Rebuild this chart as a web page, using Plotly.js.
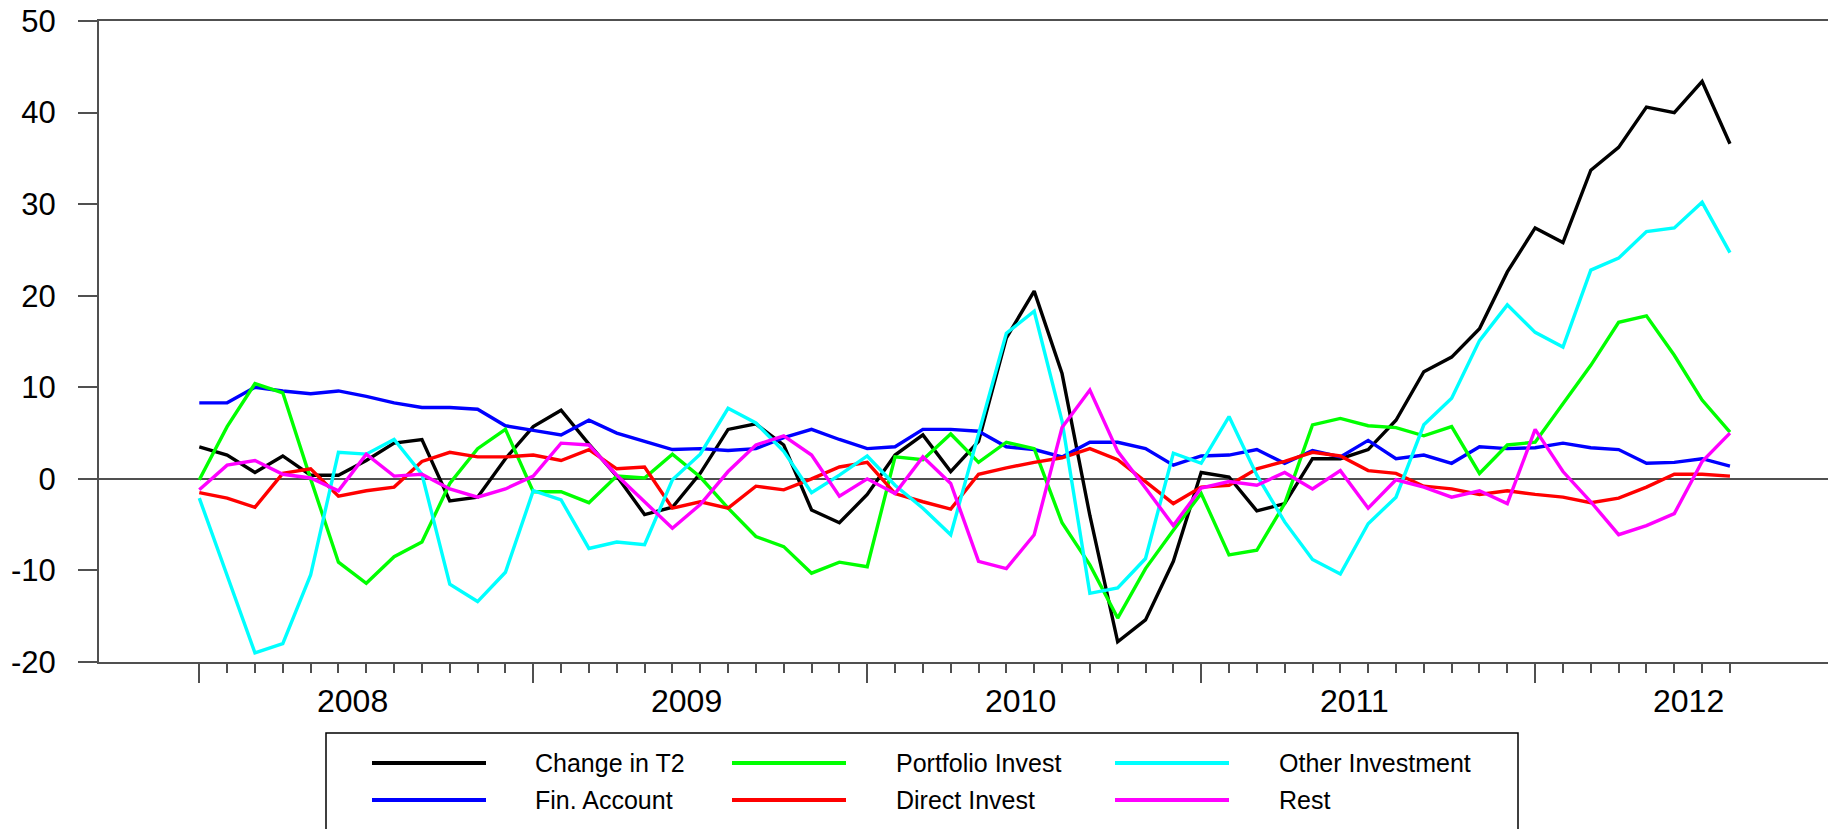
<!DOCTYPE html>
<html>
<head>
<meta charset="utf-8">
<script src="https://cdn.plot.ly/plotly-3.0.1.min.js"></script>
<style>
html,body{margin:0;padding:0;background:#ffffff;}
#chart{width:1828px;height:829px;}
</style>
</head>
<body>
<div id="chart"></div>
<script>
// ---- data (monthly) ----
const months = [
 '2008-01','2008-02','2008-03','2008-04','2008-05','2008-06','2008-07','2008-08','2008-09','2008-10','2008-11','2008-12',
 '2009-01','2009-02','2009-03','2009-04','2009-05','2009-06','2009-07','2009-08','2009-09','2009-10','2009-11','2009-12',
 '2010-01','2010-02','2010-03','2010-04','2010-05','2010-06','2010-07','2010-08','2010-09','2010-10','2010-11','2010-12',
 '2011-01','2011-02','2011-03','2011-04','2011-05','2011-06','2011-07','2011-08','2011-09','2011-10','2011-11','2011-12',
 '2012-01','2012-02','2012-03','2012-04','2012-05','2012-06','2012-07','2012-08'
];
const years = ['2008','2009','2010','2011','2012'];
const yTicks = [-20,-10,0,10,20,30,40,50];

const changeT2 = [3.5,2.6,0.7,2.5,0.4,0.4,2.0,3.9,4.3,-2.4,-2.0,2.2,
 5.7,7.5,3.8,0.3,-3.9,-3.1,0.6,5.4,6.0,3.7,-3.4,-4.8,
 -1.7,2.6,4.8,0.8,4.1,15.4,20.5,11.5,-4.0,-17.8,-15.4,-9.0,
 0.7,0.2,-3.5,-2.7,2.2,2.2,3.2,6.4,11.7,13.3,16.4,22.6,
 27.4,25.8,33.7,36.2,40.6,40.0,43.4,36.6];
const finAccount = [8.3,8.3,10.0,9.6,9.3,9.6,9.0,8.3,7.8,7.8,7.6,5.8,
 5.3,4.8,6.4,5.0,4.1,3.2,3.3,3.1,3.3,4.5,5.4,4.3,
 3.3,3.5,5.4,5.4,5.2,3.5,3.2,2.4,4.0,4.0,3.3,1.5,
 2.5,2.6,3.2,1.7,3.1,2.4,4.2,2.2,2.6,1.7,3.5,3.3,
 3.4,3.9,3.4,3.2,1.7,1.8,2.2,1.4];
const portfolioInvest = [-0.1,5.7,10.4,9.4,0.0,-9.1,-11.4,-8.5,-6.9,-0.5,3.3,5.4,
 -1.4,-1.4,-2.6,0.3,0.1,2.7,0.2,-3.2,-6.3,-7.4,-10.3,-9.1,
 -9.6,2.4,2.1,4.9,1.8,4.0,3.3,-4.8,-9.4,-15.2,-9.8,-5.6,
 -1.6,-8.3,-7.8,-2.7,5.9,6.6,5.8,5.6,4.7,5.7,0.6,3.7,
 4.0,8.2,12.4,17.1,17.8,13.5,8.6,5.1];
const directInvest = [-1.5,-2.1,-3.1,0.6,1.1,-1.9,-1.3,-0.9,1.9,2.9,2.4,2.4,
 2.6,2.0,3.2,1.1,1.3,-3.2,-2.5,-3.2,-0.8,-1.2,0.0,1.3,
 1.8,-1.6,-2.5,-3.3,0.5,1.2,1.8,2.3,3.3,2.1,-0.3,-2.7,
 -0.9,-0.7,1.1,1.9,2.9,2.5,0.9,0.6,-0.8,-1.1,-1.7,-1.3,
 -1.7,-2.0,-2.6,-2.1,-0.9,0.5,0.5,0.3];
const otherInvestment = [-2.1,-10.5,-19.0,-18.0,-10.5,2.9,2.7,4.3,0.5,-11.5,-13.4,-10.2,
 -1.3,-2.3,-7.6,-6.9,-7.2,-0.1,2.7,7.7,6.1,3.0,-1.5,0.4,
 2.5,-0.7,-3.2,-6.1,4.8,15.9,18.3,6.3,-12.5,-11.9,-8.7,2.8,
 1.7,6.8,0.4,-4.7,-8.8,-10.4,-4.9,-2.0,5.9,8.8,15.1,19.0,
 16.0,14.4,22.8,24.1,27.0,27.4,30.2,24.7];
const rest = [-1.2,1.5,2.0,0.5,0.1,-1.3,2.7,0.3,0.5,-1.1,-2.0,-1.1,
 0.3,3.9,3.7,0.4,-2.5,-5.4,-2.8,0.8,3.7,4.7,2.6,-1.9,
 0.0,-1.6,2.4,-0.5,-9.0,-9.8,-6.1,5.6,9.7,3.0,-1.0,-5.1,
 -1.0,-0.3,-0.7,0.7,-1.1,0.9,-3.2,-0.1,-0.9,-2.0,-1.3,-2.7,
 5.4,0.8,-2.5,-6.1,-5.1,-3.8,1.9,5.0];

const seriesNames = ['Change in T2','Fin. Account','Portfolio Invest','Direct Invest','Other Investment','Rest'];
const seriesValues = [changeT2, finAccount, portfolioInvest, directInvest, otherInvestment, rest];
const seriesColors = ['#000000','#0000ff','#00ff00','#ff0000','#00ffff','#ff00ff'];
// legend grid slot (column,row) for each series
const legendCol = [0,0,1,1,2,2];
const legendRow = [0,1,0,1,0,1];

// ---- geometry ----
const W = 1828, H = 829, ML = 99, MR = 0, MT = 21, MB = 167;
const plotW = W - ML - MR, plotH = H - MT - MB;
const pxX = p => (p - ML) / plotW;
const pxY = p => (H - MB - p) / plotH;
const firstPx = 199.3, monthPx = 27.83;

const xIdx = months.map((m, i) => i);
const yearStart = years.map(y => months.indexOf(y + '-01'));
const yearMid = yearStart.map(s => s + 5.5);

const traces = seriesNames.map((name, k) => ({
  type: 'scatter', mode: 'lines', name: name,
  x: xIdx, y: seriesValues[k],
  line: {color: seriesColors[k], width: 3.4},
  showlegend: false, hoverinfo: 'skip'
}));

const axisColor = '#505050';
const fontFam = '"Liberation Sans", Arial, sans-serif';

// manual legend
const legBox = {x0: 326, x1: 1518, y0: 733, y1: 845};
const legRowY = [763, 800];
const legLineX = [[372, 486], [732, 846], [1115, 1229]];
const legTextX = [533, 894, 1277];

const shapes = [{
  type: 'rect', xref: 'paper', yref: 'paper',
  x0: pxX(legBox.x0), x1: pxX(legBox.x1), y0: pxY(legBox.y1), y1: pxY(legBox.y0),
  line: {color: '#000000', width: 1.5}, fillcolor: 'rgba(0,0,0,0)'
}];
const annotations = [];
seriesNames.forEach((name, k) => {
  const c = legendCol[k], r = legendRow[k];
  shapes.push({
    type: 'line', xref: 'paper', yref: 'paper',
    x0: pxX(legLineX[c][0]), x1: pxX(legLineX[c][1]),
    y0: pxY(legRowY[r]), y1: pxY(legRowY[r]),
    line: {color: seriesColors[k], width: 4}
  });
  annotations.push({
    xref: 'paper', yref: 'paper', x: pxX(legTextX[c]), y: pxY(legRowY[r]),
    xanchor: 'left', yanchor: 'middle', showarrow: false, text: name,
    font: {family: fontFam, size: 25, color: '#000000'}
  });
});
years.forEach((yr, j) => {
  annotations.push({
    xref: 'x', yref: 'paper', x: yearMid[j], y: pxY(701),
    xanchor: 'center', yanchor: 'middle', showarrow: false, text: yr,
    font: {family: fontFam, size: 32, color: '#000000'}
  });
});

const layout = {
  width: W, height: H,
  margin: {l: ML, r: MR, t: MT, b: MB, pad: 0},
  paper_bgcolor: '#ffffff', plot_bgcolor: '#ffffff',
  showlegend: false,
  font: {family: fontFam, color: '#000000'},
  xaxis: {
    range: [-(firstPx - ML) / monthPx, (W - MR - firstPx) / monthPx],
    showgrid: false, zeroline: false,
    showline: true, linecolor: axisColor, linewidth: 2, mirror: true,
    tickmode: 'array', tickvals: yearStart, ticks: 'outside', ticklen: 19,
    tickwidth: 2, tickcolor: axisColor, showticklabels: false,
    minor: {tickmode: 'array', tickvals: xIdx, ticks: 'outside', ticklen: 9,
            tickwidth: 2, tickcolor: axisColor, showgrid: false}
  },
  yaxis: {
    range: [-20, 50],
    showgrid: false,
    zeroline: true, zerolinecolor: axisColor, zerolinewidth: 1.5,
    showline: true, linecolor: axisColor, linewidth: 2,
    tickmode: 'array', tickvals: yTicks, ticktext: yTicks.map(String),
    ticks: 'outside', ticklen: 19, tickwidth: 2, tickcolor: axisColor,
    ticklabelstandoff: 16,
    tickfont: {family: fontFam, size: 31, color: '#000000'}
  },
  shapes: shapes,
  annotations: annotations
};

Plotly.newPlot('chart', traces, layout, {staticPlot: true, displayModeBar: false});
</script>
</body>
</html>
